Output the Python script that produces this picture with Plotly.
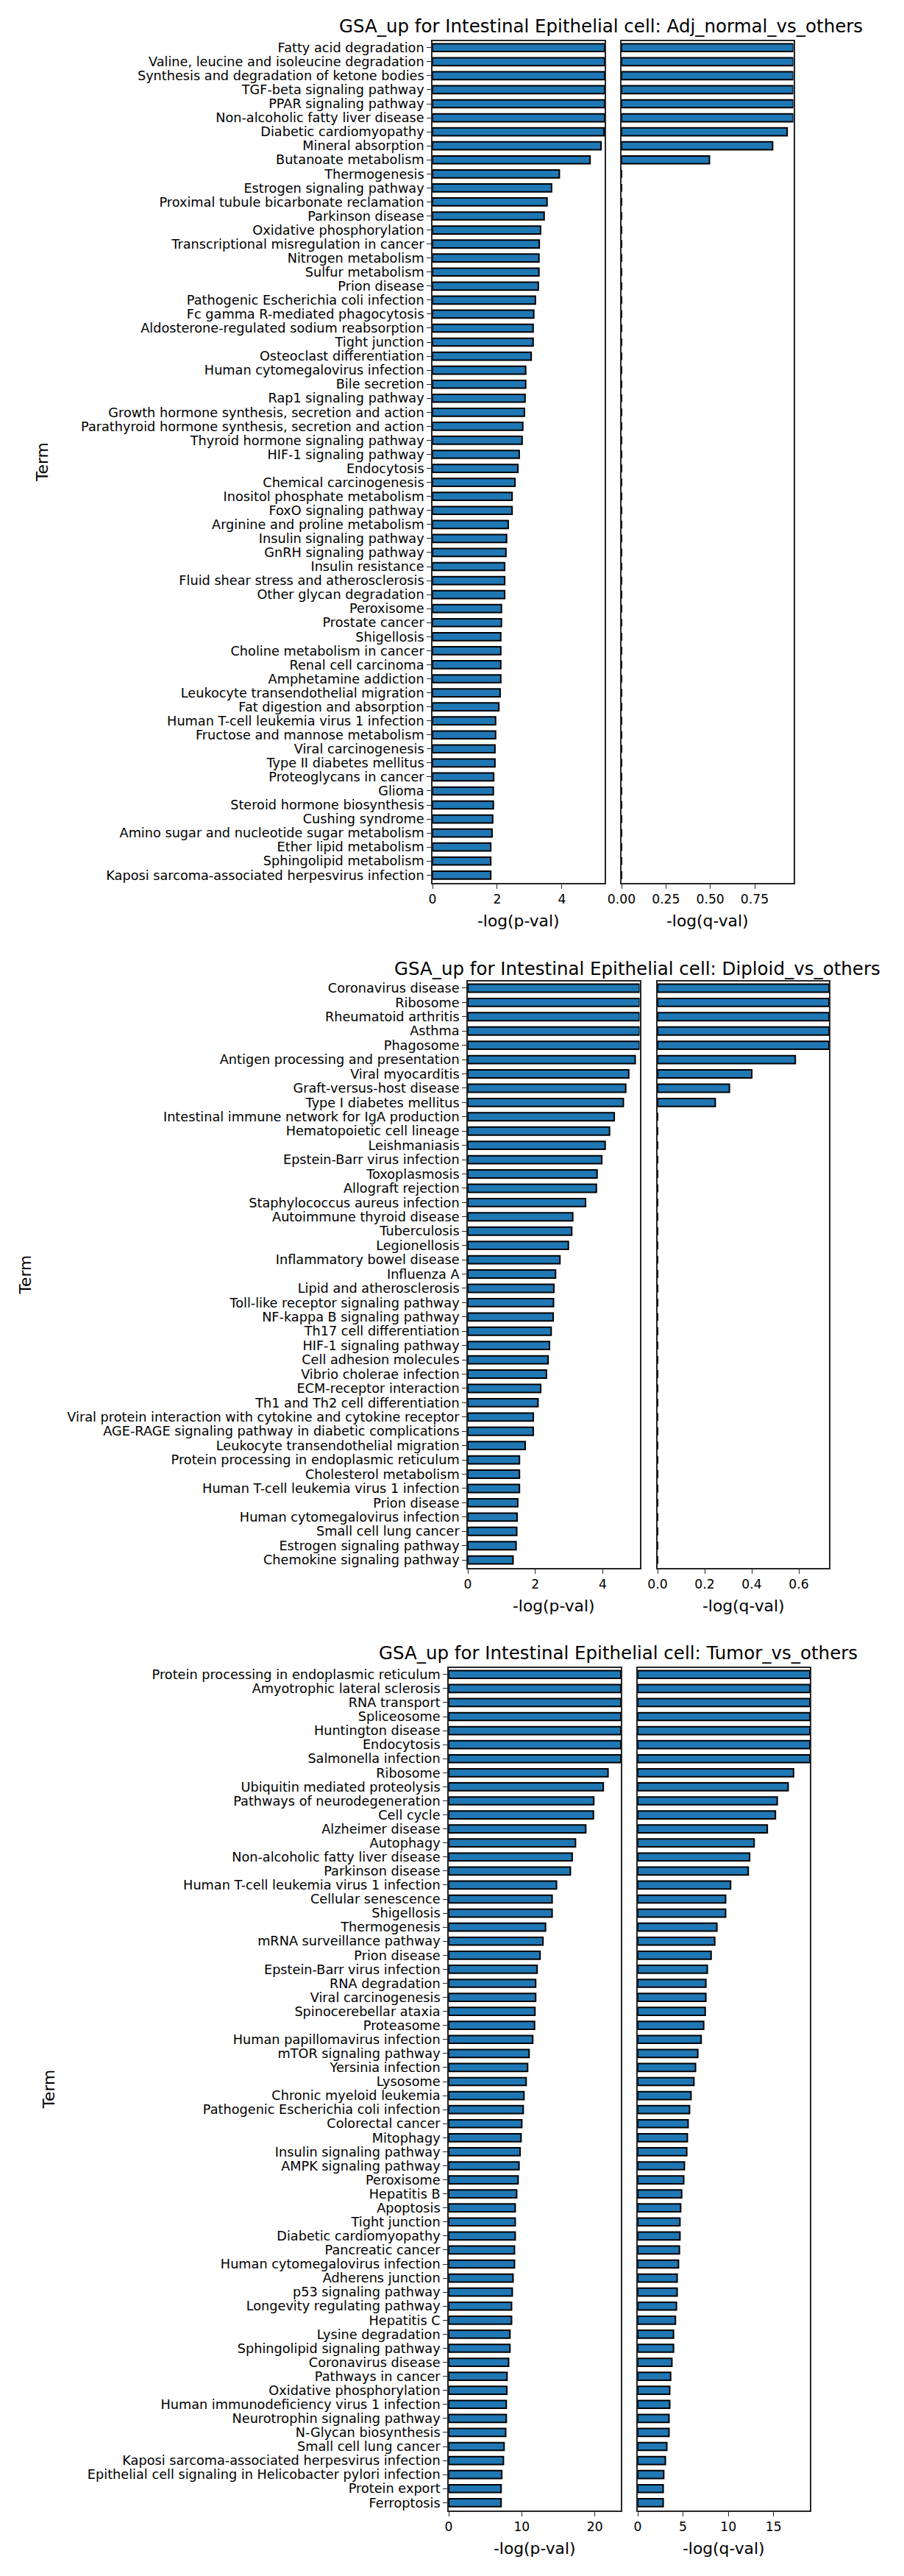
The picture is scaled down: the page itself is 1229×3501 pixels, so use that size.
import plotly.graph_objects as go

# ---- data -------------------------------------------------------------
terms_adj = [
    "Fatty acid degradation", "Valine, leucine and isoleucine degradation",
    "Synthesis and degradation of ketone bodies", "TGF-beta signaling pathway",
    "PPAR signaling pathway", "Non-alcoholic fatty liver disease",
    "Diabetic cardiomyopathy", "Mineral absorption", "Butanoate metabolism",
    "Thermogenesis", "Estrogen signaling pathway",
    "Proximal tubule bicarbonate reclamation", "Parkinson disease",
    "Oxidative phosphorylation", "Transcriptional misregulation in cancer",
    "Nitrogen metabolism", "Sulfur metabolism", "Prion disease",
    "Pathogenic Escherichia coli infection", "Fc gamma R-mediated phagocytosis",
    "Aldosterone-regulated sodium reabsorption", "Tight junction",
    "Osteoclast differentiation", "Human cytomegalovirus infection",
    "Bile secretion", "Rap1 signaling pathway",
    "Growth hormone synthesis, secretion and action",
    "Parathyroid hormone synthesis, secretion and action",
    "Thyroid hormone signaling pathway", "HIF-1 signaling pathway",
    "Endocytosis", "Chemical carcinogenesis", "Inositol phosphate metabolism",
    "FoxO signaling pathway", "Arginine and proline metabolism",
    "Insulin signaling pathway", "GnRH signaling pathway", "Insulin resistance",
    "Fluid shear stress and atherosclerosis", "Other glycan degradation",
    "Peroxisome", "Prostate cancer", "Shigellosis",
    "Choline metabolism in cancer", "Renal cell carcinoma",
    "Amphetamine addiction", "Leukocyte transendothelial migration",
    "Fat digestion and absorption", "Human T-cell leukemia virus 1 infection",
    "Fructose and mannose metabolism", "Viral carcinogenesis",
    "Type II diabetes mellitus", "Proteoglycans in cancer", "Glioma",
    "Steroid hormone biosynthesis", "Cushing syndrome",
    "Amino sugar and nucleotide sugar metabolism", "Ether lipid metabolism",
    "Sphingolipid metabolism", "Kaposi sarcoma-associated herpesvirus infection",
]
pval_adj = [5.32, 5.32, 5.32, 5.32, 5.32, 5.32, 5.30, 5.21, 4.87, 3.92,
            3.68, 3.54, 3.45, 3.34, 3.30, 3.29, 3.29, 3.27, 3.18, 3.13,
            3.11, 3.11, 3.05, 2.88, 2.88, 2.86, 2.84, 2.79, 2.77, 2.68,
            2.64, 2.55, 2.46, 2.46, 2.34, 2.29, 2.27, 2.23, 2.23, 2.23,
            2.13, 2.13, 2.11, 2.11, 2.11, 2.11, 2.09, 2.05, 1.95, 1.95,
            1.93, 1.93, 1.89, 1.88, 1.88, 1.86, 1.84, 1.80, 1.80, 1.80]
qval_adj = [0.9675, 0.9675, 0.9675, 0.9675, 0.9675, 0.9675, 0.933, 0.851, 0.495, 0,
            0, 0, 0, 0, 0, 0, 0, 0, 0, 0,
            0, 0, 0, 0, 0, 0, 0, 0, 0, 0,
            0, 0, 0, 0, 0, 0, 0, 0, 0, 0,
            0, 0, 0, 0, 0, 0, 0, 0, 0, 0,
            0, 0, 0, 0, 0, 0, 0, 0, 0, 0]

terms_dip = [
    "Coronavirus disease", "Ribosome", "Rheumatoid arthritis", "Asthma",
    "Phagosome", "Antigen processing and presentation", "Viral myocarditis",
    "Graft-versus-host disease", "Type I diabetes mellitus",
    "Intestinal immune network for IgA production", "Hematopoietic cell lineage",
    "Leishmaniasis", "Epstein-Barr virus infection", "Toxoplasmosis",
    "Allograft rejection", "Staphylococcus aureus infection",
    "Autoimmune thyroid disease", "Tuberculosis", "Legionellosis",
    "Inflammatory bowel disease", "Influenza A", "Lipid and atherosclerosis",
    "Toll-like receptor signaling pathway", "NF-kappa B signaling pathway",
    "Th17 cell differentiation", "HIF-1 signaling pathway",
    "Cell adhesion molecules", "Vibrio cholerae infection",
    "ECM-receptor interaction", "Th1 and Th2 cell differentiation",
    "Viral protein interaction with cytokine and cytokine receptor",
    "AGE-RAGE signaling pathway in diabetic complications",
    "Leukocyte transendothelial migration",
    "Protein processing in endoplasmic reticulum", "Cholesterol metabolism",
    "Human T-cell leukemia virus 1 infection", "Prion disease",
    "Human cytomegalovirus infection", "Small cell lung cancer",
    "Estrogen signaling pathway", "Chemokine signaling pathway",
]
pval_dip = [5.09, 5.09, 5.09, 5.09, 5.09, 4.96, 4.77, 4.68, 4.61, 4.34,
            4.20, 4.07, 3.97, 3.83, 3.81, 3.49, 3.11, 3.08, 2.98, 2.73,
            2.60, 2.55, 2.54, 2.53, 2.47, 2.42, 2.38, 2.33, 2.16, 2.08,
            1.94, 1.94, 1.70, 1.53, 1.53, 1.53, 1.48, 1.46, 1.45, 1.43,
            1.34]
qval_dip = [0.728, 0.728, 0.728, 0.728, 0.728, 0.585, 0.40, 0.305, 0.245, 0,
            0, 0, 0, 0, 0, 0, 0, 0, 0, 0,
            0, 0, 0, 0, 0, 0, 0, 0, 0, 0,
            0, 0, 0, 0, 0, 0, 0, 0, 0, 0,
            0]

terms_tum = [
    "Protein processing in endoplasmic reticulum", "Amyotrophic lateral sclerosis",
    "RNA transport", "Spliceosome", "Huntington disease", "Endocytosis",
    "Salmonella infection", "Ribosome", "Ubiquitin mediated proteolysis",
    "Pathways of neurodegeneration", "Cell cycle", "Alzheimer disease",
    "Autophagy", "Non-alcoholic fatty liver disease", "Parkinson disease",
    "Human T-cell leukemia virus 1 infection", "Cellular senescence",
    "Shigellosis", "Thermogenesis", "mRNA surveillance pathway",
    "Prion disease", "Epstein-Barr virus infection", "RNA degradation",
    "Viral carcinogenesis", "Spinocerebellar ataxia", "Proteasome",
    "Human papillomavirus infection", "mTOR signaling pathway",
    "Yersinia infection", "Lysosome", "Chronic myeloid leukemia",
    "Pathogenic Escherichia coli infection", "Colorectal cancer", "Mitophagy",
    "Insulin signaling pathway", "AMPK signaling pathway", "Peroxisome",
    "Hepatitis B", "Apoptosis", "Tight junction", "Diabetic cardiomyopathy",
    "Pancreatic cancer", "Human cytomegalovirus infection",
    "Adherens junction", "p53 signaling pathway",
    "Longevity regulating pathway", "Hepatitis C", "Lysine degradation",
    "Sphingolipid signaling pathway", "Coronavirus disease",
    "Pathways in cancer", "Oxidative phosphorylation",
    "Human immunodeficiency virus 1 infection",
    "Neurotrophin signaling pathway", "N-Glycan biosynthesis",
    "Small cell lung cancer", "Kaposi sarcoma-associated herpesvirus infection",
    "Epithelial cell signaling in Helicobacter pylori infection",
    "Protein export", "Ferroptosis",
]
pval_tum = [23.55, 23.55, 23.55, 23.55, 23.55, 23.55, 23.55, 21.8, 21.15, 19.85,
            19.8, 18.75, 17.35, 16.9, 16.65, 14.75, 14.15, 14.15, 13.25, 12.9,
            12.5, 12.1, 11.9, 11.9, 11.8, 11.75, 11.5, 11.0, 10.8, 10.6,
            10.3, 10.2, 10.0, 9.9, 9.77, 9.62, 9.5, 9.3, 9.1, 9.1,
            9.1, 9.0, 9.0, 8.8, 8.7, 8.6, 8.6, 8.38, 8.38, 8.2,
            7.98, 7.95, 7.88, 7.88, 7.8, 7.58, 7.49, 7.26, 7.17, 7.17]
qval_tum = [19.0, 19.0, 19.0, 19.0, 19.0, 19.0, 19.0, 17.2, 16.6, 15.4,
            15.2, 14.3, 12.85, 12.35, 12.2, 10.25, 9.7, 9.7, 8.74, 8.5,
            8.1, 7.68, 7.52, 7.52, 7.45, 7.28, 7.0, 6.63, 6.38, 6.2,
            5.88, 5.72, 5.56, 5.48, 5.41, 5.15, 5.08, 4.85, 4.74, 4.66,
            4.66, 4.6, 4.5, 4.35, 4.35, 4.27, 4.16, 3.95, 3.95, 3.77,
            3.63, 3.53, 3.53, 3.45, 3.45, 3.21, 3.05, 2.87, 2.81, 2.81]

titles = ["GSA_up for Intestinal Epithelial cell: Adj_normal_vs_others",
          "GSA_up for Intestinal Epithelial cell: Diploid_vs_others",
          "GSA_up for Intestinal Epithelial cell: Tumor_vs_others"]

# ---- layout (pixel boxes measured on the page) -------------------------
W, H = 1229, 3501
FONT = "DejaVu Sans"
BLUE = "#1f77b4"
SPINE = "#262626"

panels = [
    dict(terms=terms_adj, p=pval_adj, q=qval_adj, prange=5.32, qrange=0.9675,
         pdtick=2, qdtick=0.25, qfmt=".2f",
         px=(588, 822), qx=(845, 1078.5), top=56, bottom=1200,
         title_x=817, title_y=35, term_x=57),
    dict(terms=terms_dip, p=pval_dip, q=qval_dip, prange=5.09, qrange=0.728,
         pdtick=2, qdtick=0.2, qfmt=".1f",
         px=(636, 869.5), qx=(894, 1127), top=1334, bottom=2131,
         title_x=866, title_y=1316, term_x=34),
    dict(terms=terms_tum, p=pval_tum, q=qval_tum, prange=23.55, qrange=19.0,
         pdtick=10, qdtick=5, qfmt="d",
         px=(610, 844), qx=(867, 1101), top=2267, bottom=3412,
         title_x=840, title_y=2246, term_x=66),
]


def xdom(a, b):
    return [a / W, b / W]


def ydom(top, bottom):
    return [1 - bottom / H, 1 - top / H]


fig = go.Figure()
annotations = []
layout = {}

for i, pan in enumerate(panels):
    n = len(pan["terms"])
    xa_p, xa_q = 2 * i + 1, 2 * i + 2
    ya_p, ya_q = 2 * i + 1, 2 * i + 2
    for xa, ya, vals in ((xa_p, ya_p, pan["p"]), (xa_q, ya_q, pan["q"])):
        fig.add_trace(go.Bar(
            x=vals, y=pan["terms"], orientation="h",
            xaxis="x" if xa == 1 else f"x{xa}",
            yaxis="y" if ya == 1 else f"y{ya}",
            marker=dict(color=BLUE, line=dict(color="black", width=2)),
            width=0.56, showlegend=False))

    common_x = dict(showgrid=False, zeroline=False, showline=True, mirror=True,
                    linecolor=SPINE, linewidth=1.6, ticks="outside", ticklen=6,
                    tickwidth=1.4, tickcolor=SPINE, automargin=False,
                    tickfont=dict(family=FONT, size=17.2, color="black"))
    layout[f"xaxis{'' if xa_p == 1 else xa_p}"] = dict(
        common_x, domain=xdom(*pan["px"]), range=[0, pan["prange"]],
        dtick=pan["pdtick"], tick0=0,
        anchor="y" if ya_p == 1 else f"y{ya_p}")
    layout[f"xaxis{xa_q}"] = dict(
        common_x, domain=xdom(*pan["qx"]), range=[0, pan["qrange"]],
        dtick=pan["qdtick"], tick0=0, tickformat=pan["qfmt"], anchor=f"y{ya_q}")

    common_y = dict(type="category", range=[n - 0.44, -0.46], showgrid=False,
                    zeroline=False, showline=True, mirror=True,
                    linecolor=SPINE, linewidth=1.6, automargin=False,
                    domain=ydom(pan["top"], pan["bottom"]))
    layout[f"yaxis{'' if ya_p == 1 else ya_p}"] = dict(
        common_y, anchor="x" if xa_p == 1 else f"x{xa_p}",
        tickmode="array", tickvals=pan["terms"], ticktext=pan["terms"],
        ticks="outside", ticklen=6, tickwidth=1.4, tickcolor=SPINE,
        tickfont=dict(family=FONT, size=17.7, color="black"))
    layout[f"yaxis{ya_q}"] = dict(common_y, anchor=f"x{xa_q}",
                                  showticklabels=False, ticks="")

    # titles and axis labels
    annotations.append(dict(
        text=titles[i], x=pan["title_x"] / W, y=1 - pan["title_y"] / H,
        xref="paper", yref="paper", xanchor="center", yanchor="middle",
        showarrow=False, font=dict(family=FONT, size=24.5, color="black")))
    lab_y = 1 - (pan["bottom"] + 51) / H
    for label, (a, b) in (("-log(p-val)", pan["px"]), ("-log(q-val)", pan["qx"])):
        annotations.append(dict(
            text=label, x=(a + b) / 2 / W, y=lab_y, xref="paper", yref="paper",
            xanchor="center", yanchor="middle", showarrow=False,
            font=dict(family=FONT, size=21.8, color="black")))
    annotations.append(dict(
        text="Term", x=pan["term_x"] / W,
        y=1 - (pan["top"] + pan["bottom"]) / 2 / H,
        xref="paper", yref="paper", xanchor="center", yanchor="middle",
        textangle=-90, showarrow=False,
        font=dict(family=FONT, size=21.8, color="black")))

fig.update_layout(**layout)
fig.update_layout(
    width=W, height=H, margin=dict(l=0, r=0, t=0, b=0),
    plot_bgcolor="white", paper_bgcolor="white",
    annotations=annotations,
    font=dict(family=FONT, color="black"),
)

# page body margin off so the figure sits at the top-left corner
fig.write_html("out.html", config={"displayModeBar": False},
               post_script="document.body.style.margin='0px';")
